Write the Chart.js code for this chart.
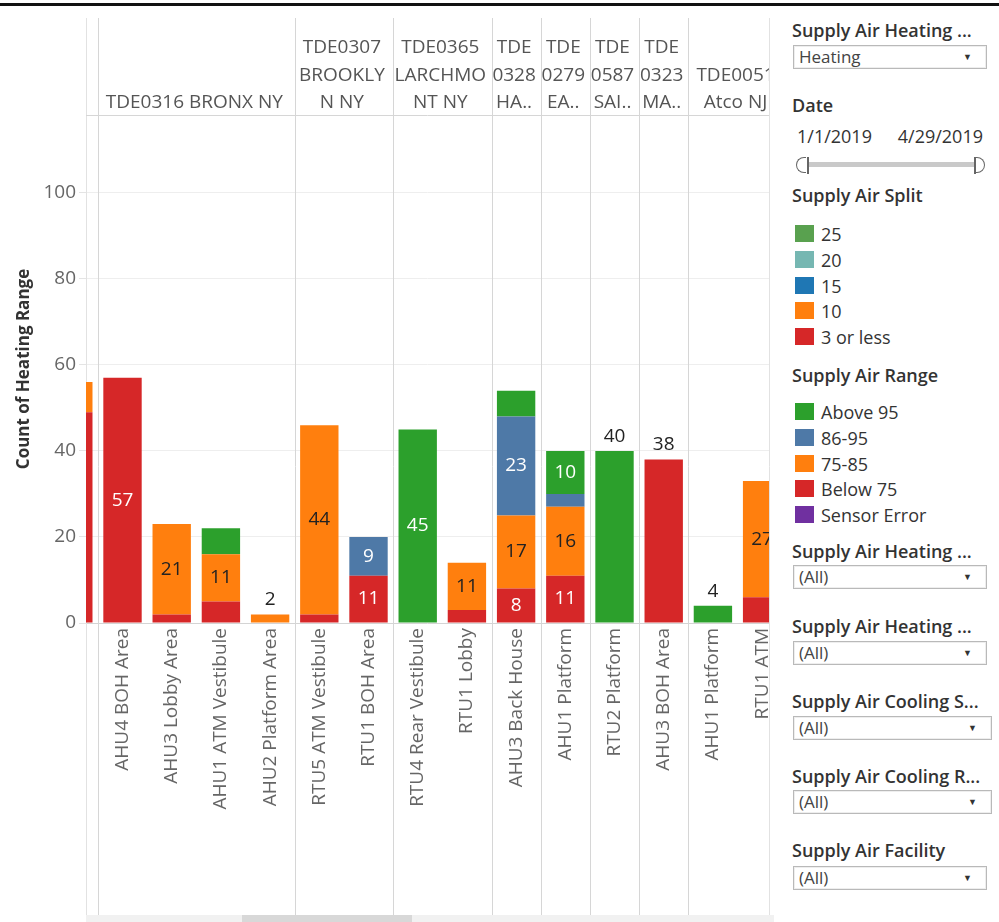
<!DOCTYPE html>
<html>
<head>
<meta charset="utf-8">
<script src="https://cdn.jsdelivr.net/npm/chart.js@4.4.1/dist/chart.umd.min.js"></script>
<style>
  html,body{margin:0;padding:0;background:#fff;}
  body{width:999px;height:922px;overflow:hidden;position:relative;font-family:'Open Sans',sans-serif;}
  #topline{position:absolute;left:0;top:3px;width:999px;height:3px;background:#111;}
  #c{position:absolute;left:0;top:0;}
  .t{position:absolute;left:792px;font-size:18px;font-weight:600;color:#333;line-height:24px;white-space:nowrap;}
  .dd{position:absolute;left:793px;height:24px;border:1px solid #b9b9b9;box-sizing:border-box;background:#fff;box-shadow:inset 0 0 0 1px #eee;}
  .dd span{position:absolute;left:5px;top:0;line-height:22px;font-size:17px;color:#444;}
  .dd i{position:absolute;right:14px;top:0;line-height:22px;font-size:9px;font-style:normal;color:#333;}
  .lg{position:absolute;left:795px;height:26px;white-space:nowrap;}
  .lg b{position:absolute;left:0;top:4px;width:19px;height:17px;}
  .lg span{position:absolute;left:26px;top:0;line-height:26px;font-size:18px;color:#333;}
  .dt{position:absolute;top:124px;line-height:24px;font-size:18px;color:#333;}
  #track{position:absolute;left:807px;top:162px;width:169px;height:5px;background:#c9c9c9;}
  .hd{position:absolute;top:157px;width:9px;height:14px;border:1.5px solid #666;}
  #scrolltrack{position:absolute;left:86px;top:915px;width:688px;height:7px;background:#f1f1f1;}
  #scrollthumb{position:absolute;left:242px;top:915px;width:170px;height:7px;background:#d8d8d8;}
</style>
</head>
<body>
<canvas id="c" width="775" height="922"></canvas>
<div id="topline"></div>
<div id="scrolltrack"></div><div id="scrollthumb"></div>

<div class="t" style="top:18px">Supply Air Heating ...</div>
<div class="dd" style="top:45px;width:194px"><span>Heating</span><i>▼</i></div>
<div class="t" style="top:93px">Date</div>
<div class="dt" style="left:797px">1/1/2019</div>
<div class="dt" style="left:897px;width:86px;text-align:right">4/29/2019</div>
<div id="track"></div>
<div class="hd" style="left:796px;border-right:none;border-radius:8px 0 0 8px;"></div>
<div class="hd" style="left:975px;border-left:none;border-radius:0 8px 8px 0;"></div>
<div style="position:absolute;left:807px;top:157px;width:1.5px;height:17px;background:#666"></div>
<div style="position:absolute;left:974px;top:157px;width:1.5px;height:17px;background:#666"></div>
<div class="t" style="top:183px">Supply Air Split</div>
<div id="splitLegend"></div>
<div class="t" style="top:363px">Supply Air Range</div>
<div id="rangeLegend"></div>
<div class="t" style="top:539px">Supply Air Heating ...</div>
<div class="dd" style="top:565px;width:194px"><span>(All)</span><i>▼</i></div>
<div class="t" style="top:614px">Supply Air Heating ...</div>
<div class="dd" style="top:641px;width:194px"><span>(All)</span><i>▼</i></div>
<div class="t" style="top:689px">Supply Air Cooling S...</div>
<div class="dd" style="top:716px;width:199px"><span>(All)</span><i>▼</i></div>
<div class="t" style="top:764px">Supply Air Cooling R...</div>
<div class="dd" style="top:790px;width:199px"><span>(All)</span><i>▼</i></div>
<div class="t" style="top:838px">Supply Air Facility</div>
<div class="dd" style="top:866px;width:194px"><span>(All)</span><i>▼</i></div>

<script>
// ---------------- data ----------------
const categories = ["", "AHU4 BOH Area", "AHU3 Lobby Area", "AHU1 ATM Vestibule", "AHU2 Platform Area",
  "RTU5 ATM Vestibule", "RTU1 BOH Area", "RTU4 Rear Vestibule", "RTU1 Lobby", "AHU3 Back House",
  "AHU1 Platform", "RTU2 Platform", "AHU3 BOH Area", "AHU1 Platform", "RTU1 ATM"];

const groupLabels = [[""], ["TDE0316 BRONX NY"], ["TDE0307", "BROOKLY", "N NY"], ["TDE0365", "LARCHMO", "NT NY"],
  ["TDE", "0328", "HA.."], ["TDE", "0279", "EA.."], ["TDE", "0587", "SAI.."], ["TDE", "0323", "MA.."], ["TDE0051", "Atco NJ"]];
const groupSizes = [1, 4, 2, 2, 1, 1, 1, 1, 2];

const below75   = [49, 57, 2, 5, 0, 2, 11, 0, 3, 8, 11, 0, 38, 0, 6];
const range7585 = [7, 0, 21, 11, 2, 44, 0, 0, 11, 17, 16, 0, 0, 0, 27];
const range8695 = [0, 0, 0, 0, 0, 0, 9, 0, 0, 23, 3, 0, 0, 0, 0];
const above95   = [0, 0, 0, 6, 0, 0, 0, 45, 0, 6, 10, 40, 0, 4, 0];
const sensorErr = [0, 0, 0, 0, 0, 0, 0, 0, 0, 0, 0, 0, 0, 0, 0];

const yTicks = [0, 20, 40, 60, 80, 100];

const splitNames = ["25", "20", "15", "10", "3 or less"];
const splitColors = ["#59a14f", "#76b7b2", "#1f77b4", "#ff7f0e", "#d62728"];

// stacking order bottom -> top
const seriesNames  = ["Below 75", "75-85", "86-95", "Above 95", "Sensor Error"];
const seriesValues = [below75, range7585, range8695, above95, sensorErr];
const seriesColors = ["#d62728", "#ff7f0e", "#4e79a7", "#2ca02c", "#7030a0"];
const legendOrder  = ["Above 95", "86-95", "75-85", "Below 75", "Sensor Error"];

// which marks carry a label (category indexes), inside the segment or above the bar
const insideLabels = {"Below 75": [1, 6, 9, 10], "75-85": [2, 3, 5, 8, 9, 10, 14], "86-95": [6, 9], "Above 95": [7, 10]};
const topLabels    = {"Below 75": [12], "75-85": [4], "Above 95": [11, 13]};

// ---------------- legends ----------------
function buildLegend(id, names, colors, top) {
  const el = document.getElementById(id);
  names.forEach((n, i) => {
    const d = document.createElement('div');
    d.className = 'lg';
    d.style.top = (top + i * 25.8) + 'px';
    d.innerHTML = '<b style="background:' + colors[i] + '"></b><span>' + n + '</span>';
    el.appendChild(d);
  });
}
buildLegend('splitLegend', splitNames, splitColors, 221);
buildLegend('rangeLegend', legendOrder, legendOrder.map(n => seriesColors[seriesNames.indexOf(n)]), 399);

// ---------------- chart ----------------
const FAM = "'Open Sans', sans-serif";
const CANVAS_W = 775, PANE_RIGHT = 769, PANE_TOP = 115, PANE_BOTTOM = 623;

const decor = {
  id: 'decor',
  beforeDatasetsDraw(chart) {
    const {ctx, chartArea: a, scales: {x}} = chart;
    ctx.save();
    ctx.lineWidth = 1;
    ctx.strokeStyle = '#d8d8d8';
    const vline = (px, c) => { ctx.strokeStyle = c; ctx.beginPath(); ctx.moveTo(px, 18); ctx.lineTo(px, 915); ctx.stroke(); };
    vline(Math.round(a.left) + 0.5, '#e2e2e2');
    vline(Math.round(a.right) + 0.5, '#e2e2e2');
    let start = 0;
    groupSizes.forEach((n, g) => {
      if (g > 0) {
        const px = Math.round(x.getPixelForValue(start - 0.5)) + 0.5;
        if (px > a.left && px < a.right) vline(px, '#d6d6d6');
      }
      start += n;
    });
    ctx.strokeStyle = '#d6d6d6';
    ctx.beginPath(); ctx.moveTo(a.left, Math.round(a.top) + 0.5); ctx.lineTo(a.right, Math.round(a.top) + 0.5); ctx.stroke();
    ctx.restore();
  },
  afterDatasetsDraw(chart) {
    const {ctx, chartArea: a, scales: {x}} = chart;
    ctx.save();
    ctx.beginPath(); ctx.rect(a.left, 0, a.right - a.left, chart.height); ctx.clip();
    // header text
    ctx.font = '19px ' + FAM;
    ctx.fillStyle = '#555';
    ctx.textAlign = 'center';
    ctx.textBaseline = 'middle';
    let start = 0;
    groupSizes.forEach((n, g) => {
      const cx = x.getPixelForValue(start + (n - 1) / 2) - 2;
      const lines = groupLabels[g];
      lines.forEach((t, k) => ctx.fillText(t, cx, 103 - (lines.length - 1 - k) * 27.5));
      start += n;
    });
    // data labels
    chart.data.datasets.forEach((ds, di) => {
      const meta = chart.getDatasetMeta(di);
      const name = seriesNames[di];
      const dark = name !== '75-85';
      (insideLabels[name] || []).forEach(i => {
        const el = meta.data[i];
        const v = seriesValues[di][i];
        ctx.fillStyle = dark ? '#fff' : '#222';
        ctx.fillText(String(v), el.x, (el.y + el.base) / 2);
      });
      (topLabels[name] || []).forEach(i => {
        const el = meta.data[i];
        const v = seriesValues[di][i];
        ctx.fillStyle = '#222';
        ctx.fillText(String(v), el.x, el.y - 14.5);
      });
    });
    ctx.restore();
  }
};

new Chart(document.getElementById('c'), {
  type: 'bar',
  data: {
    datasets: seriesNames.map((name, i) => ({
      label: name,
      data: seriesValues[i].map((v, j) => ({x: j, y: v})),
      backgroundColor: seriesColors[i],
      borderWidth: 0,
      barPercentage: 0.78,
      categoryPercentage: 1,
      clip: 0
    }))
  },
  options: {
    responsive: false,
    animation: false,
    events: [],
    layout: {padding: {top: PANE_TOP, right: CANVAS_W - PANE_RIGHT, left: 0, bottom: 0}},
    plugins: {legend: {display: false}, tooltip: {enabled: false}},
    scales: {
      x: {
        type: 'linear', stacked: true, min: 0.258, max: 14.14, offset: false,
        grid: {display: false, drawTicks: false},
        border: {display: false},
        afterBuildTicks: s => { s.ticks = categories.map((c, i) => ({value: i})).filter(t => t.value >= s.min && t.value <= s.max); },
        afterFit: s => { s.height = 922 - PANE_BOTTOM; s.paddingLeft = 0; s.paddingRight = 0; },
        ticks: {
          autoSkip: false, minRotation: 90, maxRotation: 90, padding: 5,
          color: '#666', font: {family: FAM, size: 19},
          callback: v => categories[v] ?? ''
        }
      },
      y: {
        stacked: true, min: 0, max: 118.1,
        afterBuildTicks: s => { s.ticks = yTicks.map(v => ({value: v})); },
        afterFit: s => { s.width = 86; s.paddingTop = 0; s.paddingBottom = 0; },
        grid: {
          color: c => (c.tick && c.tick.value === 0) ? '#d4d4d4' : '#eeeeee',
          tickColor: '#e4e4e4', tickLength: 7
        },
        border: {display: false},
        ticks: {padding: 3, color: '#666', font: {family: FAM, size: 19}},
        title: {display: true, text: 'Count of Heating Range', color: '#333',
          font: {family: FAM, size: 17, weight: 'bold'}, padding: {top: 14, bottom: 0}}
      }
    }
  },
  plugins: [decor]
});
</script>
</body>
</html>
